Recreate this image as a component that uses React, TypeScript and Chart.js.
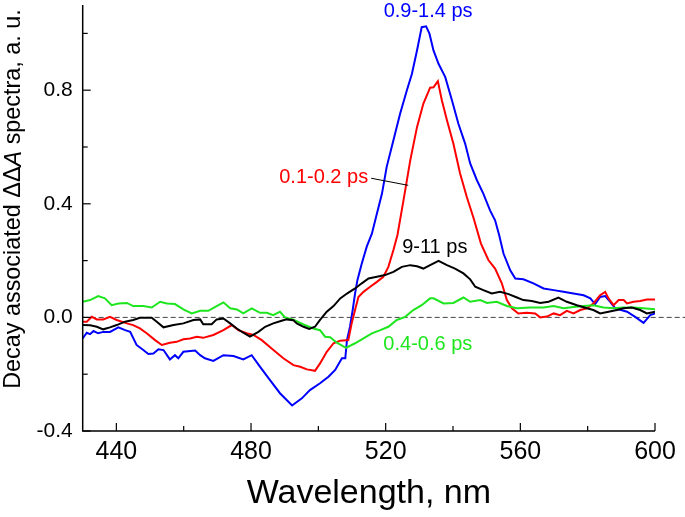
import React, { useEffect, useRef } from "react";
import { Chart, registerables } from "chart.js";

Chart.register(...registerables);

// ---- data (wavelength in nm, ΔΔA in a.u.) ----
const blueNm = [430,431.2,432.2,433.2,434.6,436.1,438.1,440.6,442.6,444.1,446,448,449.5,451,452.5,454,455.9,457.4,458.4,459.9,463.4,464.9,466.3,468.8,471.8,474.8,477.7,480.2,482.7,485.7,488.6,492.2,495.1,497.5,500.5,503,505,507,508,508.5,509.4,510.2,510.9,511.6,512.9,514.4,515.9,517.4,518.9,520.3,522.3,524.3,526.3,527.8,529.3,530.7,532,533,534.2,535.7,537.7,539.7,541.6,543.6,545.1,547.1,549,551,552.5,553.7,555,557,558.5,560.9,563.9,566.9,569.9,572.8,575.8,578.8,580.8,582.2,583.7,585.2,586.7,588.2,591.7,594.1,596.6,598.6,600];
const blueVal = [-0.074,-0.054,-0.059,-0.048,-0.056,-0.051,-0.051,-0.035,-0.045,-0.051,-0.097,-0.115,-0.129,-0.127,-0.112,-0.115,-0.148,-0.133,-0.144,-0.121,-0.117,-0.133,-0.144,-0.153,-0.133,-0.136,-0.148,-0.133,-0.174,-0.222,-0.267,-0.31,-0.285,-0.256,-0.232,-0.209,-0.185,-0.144,-0.144,-0.08,-0.033,0.026,0.084,0.131,0.19,0.25,0.295,0.366,0.436,0.53,0.624,0.718,0.8,0.858,0.94,1.022,1.025,0.999,0.94,0.893,0.846,0.764,0.682,0.612,0.542,0.483,0.436,0.377,0.342,0.29,0.225,0.166,0.137,0.134,0.12,0.102,0.096,0.09,0.084,0.078,0.067,0.047,0.072,0.075,0.055,0.032,0.02,0.002,-0.019,0.008,0.014];

const redNm = [430,431.2,432.7,434.2,436.1,438.1,440.1,443.1,445,447,449,451.5,453.5,455.9,457.9,459.9,461.9,463.9,465.8,468.8,471.8,474.3,476.2,478.7,480.7,483.2,486.2,489.6,492.6,494.6,496.6,499,500.5,502.5,504.5,506.5,508.9,509.9,510.9,511.9,513.4,515.4,517.4,519.3,520.8,522.3,523.5,525.3,527.3,529.3,531.2,533.2,534.2,535.5,536.7,538.2,540.1,542.1,544.1,546.1,548.3,550.5,552.5,554.5,556,557.5,559.4,561.9,564.4,565.9,567.9,569.9,571.8,573.8,575.8,577.8,579.8,581.7,583.7,585.2,586.2,587.7,589.2,590.7,591.7,593.6,595.6,597.6,600];
const redVal = [-0.015,-0.015,0.002,-0.007,-0.007,0.002,-0.009,-0.021,-0.027,-0.039,-0.056,-0.08,-0.097,-0.089,-0.086,-0.077,-0.074,-0.068,-0.072,-0.062,-0.045,-0.027,-0.045,-0.056,-0.062,-0.08,-0.11,-0.144,-0.168,-0.174,-0.183,-0.188,-0.162,-0.121,-0.091,-0.082,-0.08,-0.021,0.026,0.072,0.09,0.108,0.125,0.143,0.178,0.237,0.29,0.413,0.553,0.67,0.753,0.809,0.81,0.832,0.764,0.694,0.612,0.507,0.424,0.35,0.26,0.202,0.172,0.12,0.061,0.032,0.014,0.016,0.014,0,0.003,0.014,0.008,0.023,0.014,0.026,0.032,0.049,0.078,0.09,0.067,0.043,0.061,0.061,0.049,0.055,0.058,0.063,0.063];

const blackNm = [430,432.2,434.2,436.1,438.1,440.1,442.6,445,447,450.5,452,454,457,459.9,462.9,464.9,465.8,468.3,469.8,471.8,473.8,475.8,477.7,479.7,482.2,484.2,486.6,489.1,490.6,492.6,493.6,495.6,497.3,499,500.5,502.5,504.5,506.5,508.5,510.9,512.9,514.9,517.4,519.8,522.3,524.8,527.3,529.3,531.2,533.2,535.7,538.2,540.6,543.1,545.1,546.6,549,551.5,554,556.5,559,560.9,563.4,565.9,568.4,571.3,573.8,576.8,579.8,581.7,583.7,586.2,588.7,590.6,593.1,595.6,597.6,600];
const blackVal = [-0.027,-0.028,-0.033,-0.042,-0.035,-0.027,-0.015,-0.009,-0.001,-0.001,-0.015,-0.035,-0.027,-0.021,-0.009,-0.007,-0.024,-0.024,-0.007,-0.004,-0.021,-0.039,-0.054,-0.068,-0.051,-0.033,-0.021,-0.012,-0.007,-0.01,-0.021,-0.033,-0.041,-0.033,-0.009,0.02,0.04,0.067,0.084,0.102,0.12,0.137,0.143,0.149,0.16,0.178,0.184,0.18,0.172,0.184,0.199,0.184,0.172,0.155,0.134,0.108,0.096,0.084,0.09,0.082,0.07,0.061,0.058,0.051,0.055,0.07,0.055,0.043,0.032,0.026,0.014,0.02,0.026,0.032,0.035,0.026,0.014,0.02];

const greenNm = [430,432.2,434.6,436.6,438.6,440.6,443.1,445,448,450.5,453,455,457.4,459.9,462.4,464.9,467.3,469.8,471.8,473.8,475.8,477.7,480.2,482.7,484.7,486.6,488.6,490.1,492.6,495.6,498.5,500.5,502,503.5,505.5,508.2,510.9,513.4,515.9,518.4,520.8,523.3,525.8,528.2,530.7,533.2,534.2,537.2,540.1,543.1,545.1,548.1,550.1,553,556,559,562.9,566.9,569.9,572.8,575.8,578.8,581.7,584.7,587.7,590.7,593.6,596.6,600];
const greenVal = [0.055,0.061,0.075,0.067,0.043,0.049,0.051,0.04,0.04,0.035,0.055,0.049,0.047,0.028,0.014,0.023,0.023,0.04,0.053,0.032,0.028,0.014,0.032,0.016,0.016,0.008,0.02,0,-0.008,-0.025,-0.039,-0.045,-0.068,-0.07,-0.089,-0.107,-0.091,-0.074,-0.056,-0.045,-0.033,-0.009,0.002,0.026,0.043,0.067,0.067,0.049,0.051,0.07,0.055,0.061,0.051,0.055,0.04,0.032,0.035,0.035,0.04,0.032,0.037,0.04,0.043,0.035,0.032,0.035,0.035,0.032,0.029];

const xTickValues = [440, 460, 480, 500, 520, 540, 560, 580, 600];
const yTickValues = [-0.4, -0.2, 0, 0.2, 0.4, 0.6, 0.8, 1.0];

const seriesLabels = ["0.9-1.4 ps", "0.1-0.2 ps", "9-11 ps", "0.4-0.6 ps"];
const seriesColors = ["#0000ff", "#ff0000", "#000000", "#1ee61e"];

const FONT = "'Liberation Sans', Arial, Helvetica, sans-serif";

const toPts = (xs: number[], ys: number[]) => xs.map((x, i) => ({ x, y: ys[i] }));

const decorPlugin = {
  id: "decor",
  beforeDatasetsDraw(chart: any) {
    const { ctx, chartArea, scales } = chart;
    const y0 = scales.y.getPixelForValue(0);
    ctx.save();
    ctx.strokeStyle = "#444";
    ctx.lineWidth = 1;
    ctx.setLineDash([5, 3]);
    ctx.beginPath();
    ctx.moveTo(chartArea.left, y0);
    ctx.lineTo(chart.width, y0);
    ctx.stroke();
    ctx.restore();
  },
  afterDraw(chart: any) {
    const { ctx, chartArea, scales } = chart;
    const xs = scales.x;
    const ys = scales.y;
    const { left, right, top, bottom } = chartArea;
    ctx.save();
    ctx.strokeStyle = "#000";
    ctx.lineWidth = 1.5;
    ctx.setLineDash([]);
    ctx.beginPath();
    ctx.moveTo(left, top);
    ctx.lineTo(left, bottom);
    ctx.lineTo(right, bottom);
    ctx.stroke();
    // inward ticks
    ctx.lineWidth = 1.2;
    xTickValues.forEach((v) => {
      const px = xs.getPixelForValue(v);
      const len = v % 40 === 0 ? 8 : 5;
      ctx.beginPath();
      ctx.moveTo(px, bottom);
      ctx.lineTo(px, bottom - len);
      ctx.stroke();
    });
    yTickValues.forEach((v) => {
      const py = ys.getPixelForValue(v);
      const len = Math.round(v * 10) % 4 === 0 ? 8 : 5;
      ctx.beginPath();
      ctx.moveTo(left, py);
      ctx.lineTo(left + len, py);
      ctx.stroke();
    });

    // y axis title with italic A
    ctx.save();
    ctx.translate(14, 199);
    ctx.rotate(-Math.PI / 2);
    ctx.fillStyle = "#000";
    ctx.textBaseline = "middle";
    ctx.textAlign = "left";
    const parts = [
      { t: "Decay associated \u0394\u0394", f: `23.4px ${FONT}` },
      { t: "A", f: `italic 23.4px ${FONT}` },
      { t: " spectra, a. u.", f: `23.4px ${FONT}` },
    ];
    let total = 0;
    parts.forEach((p) => {
      ctx.font = p.f;
      total += ctx.measureText(p.t).width;
    });
    let cx = -total / 2;
    parts.forEach((p) => {
      ctx.font = p.f;
      ctx.fillText(p.t, cx, 0);
      cx += ctx.measureText(p.t).width;
    });
    ctx.restore();

    // series annotations
    ctx.font = `20px ${FONT}`;
    ctx.textBaseline = "middle";
    const X = (v: number) => xs.getPixelForValue(v);
    const Y = (v: number) => ys.getPixelForValue(v);
    ctx.fillStyle = seriesColors[0];
    ctx.textAlign = "center";
    ctx.fillText(seriesLabels[0], X(532.6), Y(1.077));
    ctx.fillStyle = seriesColors[1];
    ctx.textAlign = "right";
    ctx.fillText(seriesLabels[1], X(514.8), Y(0.493));
    ctx.fillStyle = seriesColors[2];
    ctx.textAlign = "left";
    ctx.fillText(seriesLabels[2], X(524.9), Y(0.247));
    ctx.fillStyle = seriesColors[3];
    ctx.fillText(seriesLabels[3], X(519.3), Y(-0.097));
    // leader line for red label
    ctx.strokeStyle = "#000";
    ctx.lineWidth = 1;
    ctx.beginPath();
    ctx.moveTo(X(515.7), Y(0.49));
    ctx.lineTo(X(526.7), Y(0.465));
    ctx.stroke();
    ctx.restore();
  },
};

export default function App() {
  const ref = useRef<HTMLCanvasElement | null>(null);
  useEffect(() => {
    if (!ref.current) return;
    Chart.defaults.font.family = FONT;
    const chart = new Chart(ref.current, {
      type: "line",
      data: {
        datasets: [
          { label: seriesLabels[2], data: toPts(blackNm, blackVal), borderColor: seriesColors[2] },
          { label: seriesLabels[3], data: toPts(greenNm, greenVal), borderColor: seriesColors[3] },
          { label: seriesLabels[1], data: toPts(redNm, redVal), borderColor: seriesColors[1] },
          { label: seriesLabels[0], data: toPts(blueNm, blueVal), borderColor: seriesColors[0] },
        ].map((d) => ({ ...d, borderWidth: 2, pointRadius: 0, tension: 0, fill: false })),
      },
      options: {
        animation: false,
        responsive: false,
        devicePixelRatio: 1,
        layout: { padding: { left: 0, right: 30, top: 5, bottom: 0 } },
        plugins: { legend: { display: false }, tooltip: { enabled: false } },
        scales: {
          x: {
            type: "linear",
            min: 430,
            max: 600,
            grid: { display: false, drawTicks: false },
            border: { display: false },
            afterBuildTicks: (s: any) => {
              s.ticks = xTickValues.map((v) => ({ value: v }));
            },
            afterFit: (s: any) => {
              s.height = 86;
              s.paddingLeft = 0;
              s.paddingRight = 0;
            },
            ticks: {
              autoSkip: false,
              maxRotation: 0,
              padding: 6,
              color: "#000",
              font: { size: 25 },
              callback: (v: any) => (Number(v) % 40 === 0 ? String(v) : ""),
            },
            title: {
              display: true,
              text: "Wavelength, nm",
              color: "#000",
              font: { size: 34 },
              padding: { top: 0, bottom: 3 },
            },
          },
          y: {
            type: "linear",
            min: -0.4,
            max: 1.1,
            grid: { display: false, drawTicks: false },
            border: { display: false },
            afterBuildTicks: (s: any) => {
              s.ticks = yTickValues.map((v) => ({ value: v }));
            },
            afterFit: (s: any) => {
              s.width = 82.7;
              s.paddingTop = 0;
              s.paddingBottom = 0;
            },
            ticks: {
              autoSkip: false,
              padding: 10,
              color: "#000",
              font: { size: 21 },
              callback: (v: any) => (Math.round(Number(v) * 10) % 4 === 0 ? Number(v).toFixed(1) : ""),
            },
          },
        },
      },
      plugins: [decorPlugin],
    } as any);
    return () => chart.destroy();
  }, []);
  return (
    <div style={{ position: "absolute", left: 0, top: 0, width: 685, height: 517 }}>
      <canvas ref={ref} width={685} height={517} style={{ width: 685, height: 517, display: "block" }} />
    </div>
  );
}
